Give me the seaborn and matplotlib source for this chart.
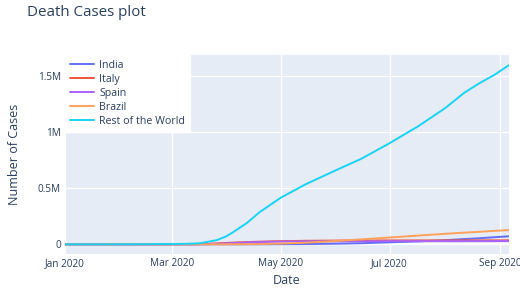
import pandas as pd
import matplotlib
matplotlib.use("Agg")
import matplotlib.pyplot as plt
import matplotlib.dates as mdates
from matplotlib.ticker import FuncFormatter
import seaborn as sns

# cumulative deaths
dates = ["2020-01-01", "2020-01-22", "2020-02-15", "2020-03-01", "2020-03-10",
         "2020-03-16", "2020-03-21", "2020-03-26", "2020-03-31", "2020-04-04",
         "2020-04-08", "2020-04-12", "2020-04-15", "2020-04-19", "2020-04-25",
         "2020-05-01", "2020-05-15", "2020-06-01", "2020-06-15", "2020-07-01",
         "2020-07-17", "2020-08-01", "2020-08-12", "2020-08-20", "2020-08-29",
         "2020-09-06"]
india = [0, 0, 0, 0, 0, 2, 4, 13, 35, 83, 169, 308, 377, 521, 780, 1152, 2649,
         5608, 9900, 17834, 26273, 36511, 47033, 53866, 63498, 71642]
italy = [0, 0, 0, 34, 631, 2158, 4825, 8215, 12428, 15362, 17669, 19899, 21645,
         23660, 26384, 28236, 31610, 33475, 34371, 34788, 35028, 35154, 35215,
         35412, 35473, 35541]
spain = [0, 0, 0, 0, 35, 342, 1375, 4365, 8464, 11744, 14555, 16972, 18579,
         20453, 22902, 24543, 27459, 27127, 27136, 28363, 28416, 28445, 28579,
         28813, 29011, 29418]
brazil = [0, 0, 0, 0, 0, 0, 18, 77, 201, 445, 820, 1223, 1736, 2462, 4057, 6412,
          14817, 29937, 43959, 60632, 77851, 93563, 104201, 111100, 120262, 126650]
rest = [0, 0, 1000, 3000, 5000, 9000, 22000, 37000, 68000, 105000, 148000,
        190000, 230000, 285000, 350000, 415000, 535000, 660000, 760000, 900000,
        1050000, 1210000, 1350000, 1430000, 1510000, 1595000]

series = {"India": india, "Italy": italy, "Spain": spain, "Brazil": brazil,
          "Rest of the World": rest}
colors = ["#636EFA", "#EF553B", "#AB63FA", "#FFA15A", "#19D3F3"]

frames = []
for name, vals in series.items():
    frames.append(pd.DataFrame({"Date": pd.to_datetime(dates), "Cases": vals,
                                "Country": name}))
df = pd.concat(frames, ignore_index=True)

sns.set_style("white")
plt.rcParams["font.family"] = ["Open Sans", "DejaVu Sans"]
txt = "#2a3f5f"

fig = plt.figure(figsize=(5.2, 2.91), dpi=100)
ax = fig.add_axes([65 / 520, 1 - 254 / 291, 444 / 520, 199 / 291])
ax.set_facecolor("#E5ECF6")
ax.axhline(0, color="white", lw=1.5, zorder=1)
sns.lineplot(data=df, x="Date", y="Cases", hue="Country",
             palette=colors, linewidth=1.4, ax=ax, zorder=3)

ax.set_xlim(pd.Timestamp(dates[0]), pd.Timestamp(dates[-1]))
ax.set_ylim(-86000, 1685000)
ax.xaxis.set_major_locator(mdates.MonthLocator(bymonth=[1, 3, 5, 7, 9]))
ax.xaxis.set_major_formatter(mdates.DateFormatter("%b %Y"))
ax.set_yticks([0, 500000, 1000000, 1500000])
ax.yaxis.set_major_formatter(FuncFormatter(
    lambda v, p: "0" if v == 0 else f"{v / 1e6:g}M"))
ax.grid(True, color="white", lw=1, zorder=0)
ax.set_axisbelow(True)
for s in ax.spines.values():
    s.set_visible(False)
ax.tick_params(length=0, labelsize=7.2, labelcolor=txt, pad=3)

ax.set_xlabel("Date", fontsize=9, color=txt)
ax.set_ylabel("Number of Cases", fontsize=9, color=txt)
ax.xaxis.label.set_va("center")
ax.yaxis.label.set_va("center")
ax.xaxis.set_label_coords(0.5, (254 - 281) / 199)
ax.yaxis.set_label_coords((14.5 - 65) / 444, 0.5)
fig.text(27 / 520, 1 - 13 / 291, "Death Cases plot", fontsize=10.9, color=txt,
         va="center", ha="left")

leg = ax.legend(loc="upper left", bbox_to_anchor=(0, 1), borderaxespad=0,
                frameon=True, facecolor="white", edgecolor="white",
                framealpha=1, fancybox=False, fontsize=7.7, labelspacing=0.28,
                handlelength=2.3, handletextpad=0.45, borderpad=0.45)
for t in leg.get_texts():
    t.set_color(txt)
leg.set_zorder(5)

fig.savefig("out.png", dpi=100)
